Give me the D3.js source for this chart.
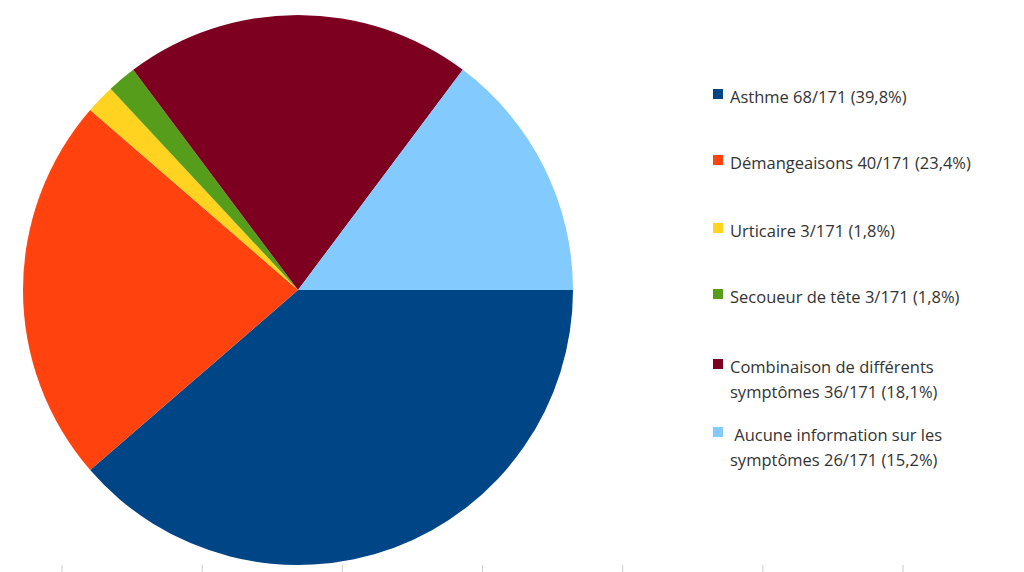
<!DOCTYPE html>
<html><head><meta charset="utf-8">
<script src="https://cdn.jsdelivr.net/npm/d3@7"></script>
<style>body{margin:0;background:#fff}</style></head>
<body><svg id="c" width="1024" height="572"></svg>
<script>
const categories = ["Asthme","Démangeaisons","Urticaire","Secoueur de tête","Combinaison de différents symptômes","Aucune information sur les symptômes"];
const values = [68,40,3,3,36,26];
const legendLines = [["Asthme 68/171 (39,8%)"],["Démangeaisons 40/171 (23,4%)"],["Urticaire 3/171 (1,8%)"],["Secoueur de tête 3/171 (1,8%)"],["Combinaison de différents","symptômes 36/171 (18,1%)"],[" Aucune information sur les","symptômes 26/171 (15,2%)"]];
const colors = ["#004586","#ff420e","#ffd320","#579d1c","#7e0021","#83caff"];
const svg = d3.select("#c");
const pie = d3.pie().sort(null).startAngle(Math.PI/2).endAngle(Math.PI/2+2*Math.PI);
const arc = d3.arc().innerRadius(0).outerRadius(275);
svg.append("g").attr("transform","translate(298,290)").selectAll("path").data(pie(values)).join("path")
  .attr("d",arc).attr("fill",(d,i)=>colors[i]);
const tx = d3.scaleLinear().domain([0,6]).range([62,903]);
svg.selectAll("line.t").data(d3.range(7)).join("line").attr("x1",d=>tx(d)).attr("x2",d=>tx(d))
  .attr("y1",565).attr("y2",572).attr("stroke","#ccc");
const rowY = [98,164,232,298,368,436];
const lg = svg.append("g").style("font-family","'Open Sans', sans-serif").style("font-size","16.5px").attr("fill","#333");
categories.forEach((c,i)=>{
  lg.append("rect").attr("x",713).attr("y",rowY[i]-9).attr("width",10).attr("height",10).attr("fill",colors[i]);
  legendLines[i].forEach((t,j)=>lg.append("text").attr("x",730).attr("y",rowY[i]+5+j*25).attr("xml:space","preserve").text(t));
});
</script></body></html>
